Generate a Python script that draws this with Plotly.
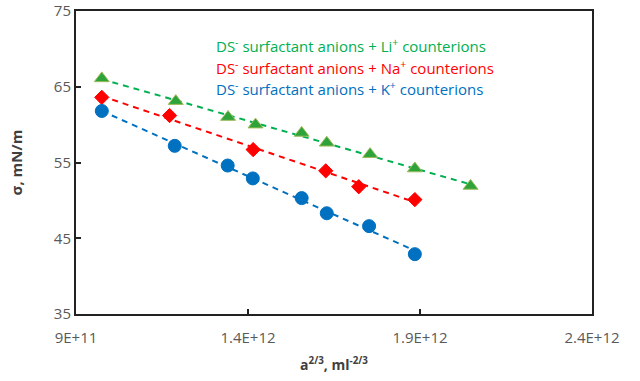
import numpy as np
import plotly.graph_objects as go

# Data
x_li = [9.75e11, 1.19e12, 1.342e12, 1.422e12, 1.556e12, 1.629e12, 1.755e12, 1.885e12, 2.047e12]
y_li = [66.1, 63.1, 61.0, 60.0, 58.9, 57.6, 56.1, 54.2, 51.9]
x_na = [9.75e11, 1.172e12, 1.415e12, 1.626e12, 1.722e12, 1.885e12]
y_na = [63.6, 61.2, 56.7, 53.9, 51.8, 50.1]
x_k = [9.75e11, 1.187e12, 1.341e12, 1.414e12, 1.556e12, 1.629e12, 1.752e12, 1.885e12]
y_k = [61.8, 57.2, 54.6, 52.9, 50.3, 48.3, 46.6, 42.9]

x_ticks = [9e11, 1.4e12, 1.9e12, 2.4e12]
x_tick_labels = ["9E+11", "1.4E+12", "1.9E+12", "2.4E+12"]
y_ticks = [35, 45, 55, 65, 75]

labels = [
    "DS<sup>-</sup> surfactant anions + Li<sup>+</sup> counterions",
    "DS<sup>-</sup> surfactant anions + Na<sup>+</sup> counterions",
    "DS<sup>-</sup> surfactant anions + K<sup>+</sup> counterions",
]

series = [
    (x_li, y_li, "#00B050", "#2EA33A", "triangle-up", 13, "#9BBB59"),
    (x_na, y_na, "#FF0000", "#FF0000", "diamond", 11, "#FF0000"),
    (x_k, y_k, "#0070C0", "#0070C0", "circle", 13, "#0070C0"),
]

fig = go.Figure()
for (xs, ys, lc, mc, sym, sz, mlc) in series:
    xs_a = np.array(xs)
    coef = np.polyfit(xs_a, np.array(ys), 1)
    xl = np.array([xs_a.min(), xs_a.max()])
    fig.add_trace(go.Scatter(x=xl, y=np.polyval(coef, xl), mode="lines",
                             line=dict(color=lc, width=2, dash="6px,5px"),
                             showlegend=False, hoverinfo="skip"))
    fig.add_trace(go.Scatter(x=xs, y=ys, mode="markers",
                             marker=dict(symbol=sym, size=sz, color=mc,
                                         line=dict(color=mlc, width=1)),
                             showlegend=False))

colors = ["#00B050", "#FF0000", "#0070C0"]
for i, (lab, c) in enumerate(zip(labels, colors)):
    fig.add_annotation(text=lab, xref="paper", yref="paper",
                       x=(214 - 76) / 516, y=1 - (46 + 21 * i - 11) / 303,
                       xanchor="left", yanchor="middle", showarrow=False,
                       font=dict(family="Open Sans", size=15, color=c))

axis_common = dict(showline=True, linecolor="#222222", linewidth=2, mirror=True,
                   ticks="inside", ticklen=5, tickwidth=1.5, tickcolor="#222222",
                   showgrid=False, zeroline=False, automargin=False,
                   tickfont=dict(family="Open Sans", size=15, color="#595959"))

fig.update_xaxes(range=[9e11, 2.4e12], tickvals=x_ticks, ticktext=x_tick_labels,
                 ticklabelstandoff=9,
                 title=dict(text="<b>a<sup>2/3</sup>, ml<sup>-2/3</sup></b>", standoff=14,
                            font=dict(family="Open Sans", size=14, color="#404040")),
                 **axis_common)
fig.update_yaxes(range=[35, 75], tickvals=y_ticks,
                 title=dict(text="<b>σ, mN/m</b>", standoff=28,
                            font=dict(family="Open Sans", size=15, color="#404040")),
                 **axis_common)

fig.update_layout(width=640, height=381, margin=dict(l=76, r=48, t=11, b=67),
                  plot_bgcolor="white", paper_bgcolor="white")

fig.write_html("out.html")
